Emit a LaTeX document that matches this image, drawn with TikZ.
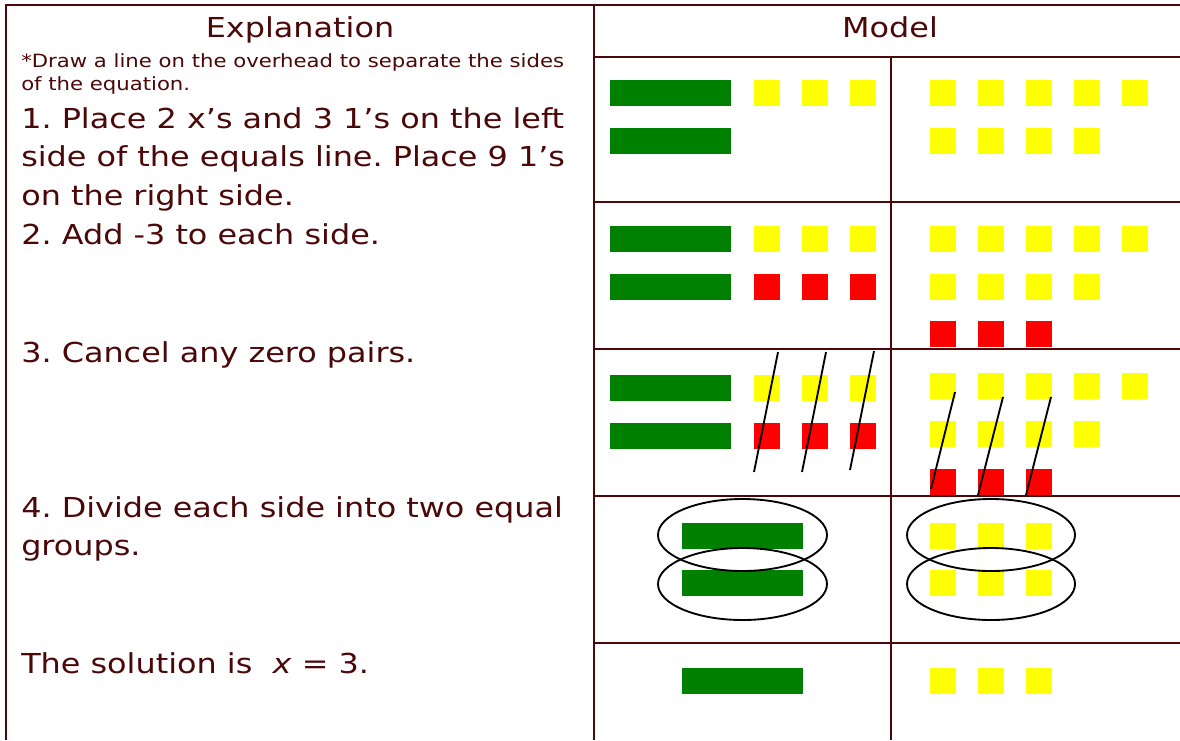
\documentclass[tikz,border=0pt]{standalone}
\usepackage{fontspec}
\setmainfont[FakeStretch=1.16]{DejaVu Sans}
\frenchspacing
\definecolor{maroon}{RGB}{75,8,8}
\definecolor{tgreen}{RGB}{0,128,0}
\definecolor{tyellow}{RGB}{255,255,0}
\definecolor{tred}{RGB}{255,0,0}
\newcommand\GreenBar[2]{\fill[tgreen] (#1,#2) rectangle ++(121,26);}
\newcommand\YelSq[2]{\fill[tyellow] (#1,#2) rectangle ++(26,26);}
\newcommand\RedSq[2]{\fill[tred] (#1,#2) rectangle ++(26,26);}
\begin{document}
\begin{tikzpicture}[x=0.75pt,y=-0.75pt,
  gridline/.style={draw=maroon, line width=2.2pt},
  bigtext/.style={anchor=base west, inner sep=0pt, text=maroon, font=\fontsize{20.6pt}{24pt}\selectfont},
  smalltext/.style={anchor=base west, inner sep=0pt, text=maroon, font=\fontsize{13.7pt}{16pt}\selectfont},
  headtext/.style={anchor=base, inner sep=0pt, text=maroon, font=\fontsize{20.6pt}{24pt}\selectfont},
  slash/.style={draw=black, line width=1.4pt},
  group/.style={draw=black, line width=1.4pt}]
\useasboundingbox (0,0) rectangle (1180,740);
\fill[white] (0,0) rectangle (1180,740);

% grid
\draw[gridline] (6,740) -- (6,5) -- (1180,5);
\draw[gridline] (594,5) -- (594,740);
\draw[gridline] (891,57) -- (891,740);
\foreach \yy in {57,202,349,496,643} {\draw[gridline] (594,\yy) -- (1180,\yy);}

% headers
\node[headtext] (hexp) at (300,37) {Explanation};
\node[headtext] (hmod) at (890,37) {Model};

% explanation text
\node[smalltext] (n0a) at (21,67) {*Draw a line on the overhead to separate the sides};
\node[smalltext] (n0b) at (21,90) {of the equation.};
\node[bigtext] (s1a) at (21,128) {1. Place 2 x’s and 3 1’s on the left};
\node[bigtext] (s1b) at (21,166.5) {side of the equals line. Place 9 1’s};
\node[bigtext] (s1c) at (21,205) {on the right side.};
\node[bigtext] (s2) at (21,244) {2. Add -3 to each side.};
\node[bigtext] (s3) at (21,362) {3. Cancel any zero pairs.};
\node[bigtext] (s4a) at (21,517) {4. Divide each side into two equal};
\node[bigtext] (s4b) at (21,555) {groups.};
\node[bigtext] (s5) at (21,673) {The solution is\ \ \textit{x} = 3.};

% row 1
\GreenBar{610}{80}\GreenBar{610}{128}
\foreach \xx in {754,802,850} {\YelSq{\xx}{80}}
\foreach \xx in {930,978,1026,1074,1122} {\YelSq{\xx}{80}}
\foreach \xx in {930,978,1026,1074} {\YelSq{\xx}{128}}

% row 2
\GreenBar{610}{226}\GreenBar{610}{274}
\foreach \xx in {754,802,850} {\YelSq{\xx}{226}\RedSq{\xx}{274}}
\foreach \xx in {930,978,1026,1074,1122} {\YelSq{\xx}{226}}
\foreach \xx in {930,978,1026,1074} {\YelSq{\xx}{274}}
\foreach \xx in {930,978,1026} {\RedSq{\xx}{321}}

% row 3
\GreenBar{610}{375}\GreenBar{610}{423}
\foreach \xx in {754,802,850} {\YelSq{\xx}{375}\RedSq{\xx}{423}}
\foreach \xx in {930,978,1026,1074,1122} {\YelSq{\xx}{373}}
\foreach \xx in {930,978,1026,1074} {\YelSq{\xx}{421}}
\foreach \xx in {930,978,1026} {\RedSq{\xx}{469}}
\draw[slash] (778,352) -- (754,472);
\draw[slash] (826,352) -- (802,472);
\draw[slash] (874,351) -- (850,470);
\draw[slash] (955,392) -- (931,489);
\draw[slash] (1003,397) -- (978,495);
\draw[slash] (1051,397) -- (1026,495);

% row 4
\GreenBar{682}{523}\GreenBar{682}{570}
\foreach \xx in {930,978,1026} {\YelSq{\xx}{523}\YelSq{\xx}{570}}
\draw[group] (742.5,535) ellipse [x radius=84.5, y radius=36];
\draw[group] (742.5,584) ellipse [x radius=84.5, y radius=36];
\draw[group] (991,535) ellipse [x radius=84, y radius=36];
\draw[group] (991,584) ellipse [x radius=84, y radius=36];

% row 5
\GreenBar{682}{668}
\foreach \xx in {930,978,1026} {\YelSq{\xx}{668}}
\end{tikzpicture}
\end{document}
